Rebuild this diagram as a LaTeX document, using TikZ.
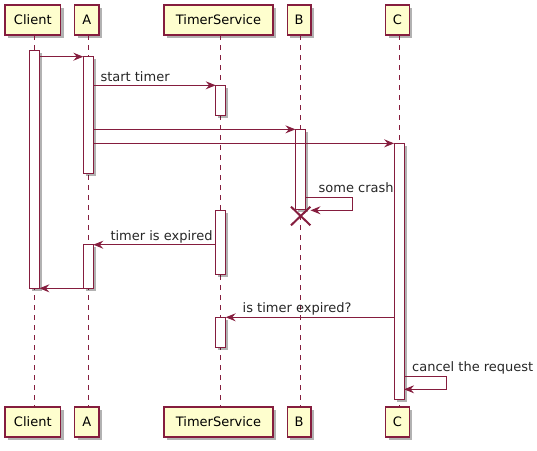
\documentclass[tikz,border=0pt]{standalone}
\usepackage{fontspec}
\setmainfont{DejaVu Sans}
\usetikzlibrary{arrows.meta,shadows}

\definecolor{umlline}{HTML}{851D3E}
\definecolor{umlfill}{HTML}{FEFECE}

\tikzset{
  party/.style={draw=umlline, line width=1.3pt, fill=umlfill, minimum height=30pt,
    inner sep=0pt, font=\fontsize{13}{15}\selectfont,
    drop shadow={shadow xshift=3pt, shadow yshift=-3pt, fill=black, opacity=.3}},
  lifeline/.style={draw=umlline, line width=.8pt, dash pattern=on 5pt off 5pt},
  bar/.style={draw=umlline, line width=1pt, fill=white, minimum width=10pt, inner sep=0pt,
    outer sep=0pt, drop shadow={shadow xshift=2.5pt, shadow yshift=-2.5pt, fill=black, opacity=.3}},
  msg/.style={draw=umlline, line width=1pt, -{Stealth[length=10pt,width=8pt,inset=3.5pt]}},
  lbl/.style={inner sep=0pt, font=\fontsize{13}{15}\selectfont, text=black!85}
}

\begin{document}
\begin{tikzpicture}[x=1pt, y=-1pt]
\useasboundingbox (0,0) rectangle (537,450);

% participants, top and bottom
\foreach \nm/\x/\w/\txt in {Client/34.3/55.5/Client, A/88.4/24.3/A, Timer/220/109/TimerService,
                            B/300.6/23.7/B, C/399/23.9/C}{
  \node[party, minimum width=\w pt] (top\nm) at (\x-1.5, 20) {\txt};
  \node[party, minimum width=\w pt] (bot\nm) at (\x-1.5, 422) {\txt};
  \coordinate (ltop\nm) at (\x, 35);
  \coordinate (lbot\nm) at (\x, 407);
  \draw[lifeline] (ltop\nm) -- (lbot\nm);
}

% activations
\node[bar, minimum height=237.6pt] (actClient) at (34.4, 169.5) {};
\node[bar, minimum height=116.6pt] (actA1)     at (88.3, 115) {};
\node[bar, minimum height=30pt]    (actT1)     at (220.7, 100.3) {};
\node[bar, minimum height=79.7pt]  (actB)      at (300.4, 169.2) {};
\node[bar, minimum height=255.7pt] (actC)      at (399.1, 271.2) {};
\node[bar, minimum height=63.6pt]  (actT2)     at (220.7, 242.5) {};
\node[bar, minimum height=43.6pt]  (actA2)     at (88.3, 266.5) {};
\node[bar, minimum height=30pt]    (actT3)     at (220.7, 332.3) {};

% messages
\draw[msg] (actClient.east |- actA1.north) -- (actA1.north west);
\draw[msg] (actA1.east |- actT1.north) -- (actT1.north west);
\node[lbl, anchor=base west] (lStart) at (100.3, 81) {start timer};
\draw[msg] (actA1.east |- actB.north) -- (actB.north west);
\draw[msg] (actA1.east |- actC.north) -- (actC.north west);

% B crashes
\coordinate (crashA) at (352.7, 197.3);
\coordinate (crashB) at (352.7, 210.3);
\draw[msg] (actB.east |- crashA) -- (crashA) -- (crashB) -- (310.5, 210.3);
\node[lbl, anchor=base west] (lCrash) at (318.5, 192) {some crash};
\draw[umlline, line width=2pt] (291, 206.7) -- (310.4, 225.3) (310.4, 206.7) -- (291, 225.3);

\draw[msg] (actT2.west |- actA2.north) -- (actA2.north east);
\node[lbl, anchor=base west] (lExpired) at (110.3, 240.3) {timer is expired};
\draw[msg] (actA2.south west) -- (actClient.south east);

\draw[msg] (actC.west |- actT3.north) -- (actT3.north east);
\node[lbl, anchor=base west] (lAsk) at (242.5, 312.7) {is timer expired?};

% C cancels
\coordinate (cancelA) at (446.2, 376.7);
\coordinate (cancelB) at (446.2, 389.3);
\draw[msg] (actC.east |- cancelA) -- (cancelA) -- (cancelB) -- (actC.east |- cancelB);
\node[lbl, anchor=base west] (lCancel) at (412, 371.7) {cancel the request};
\end{tikzpicture}
\end{document}
